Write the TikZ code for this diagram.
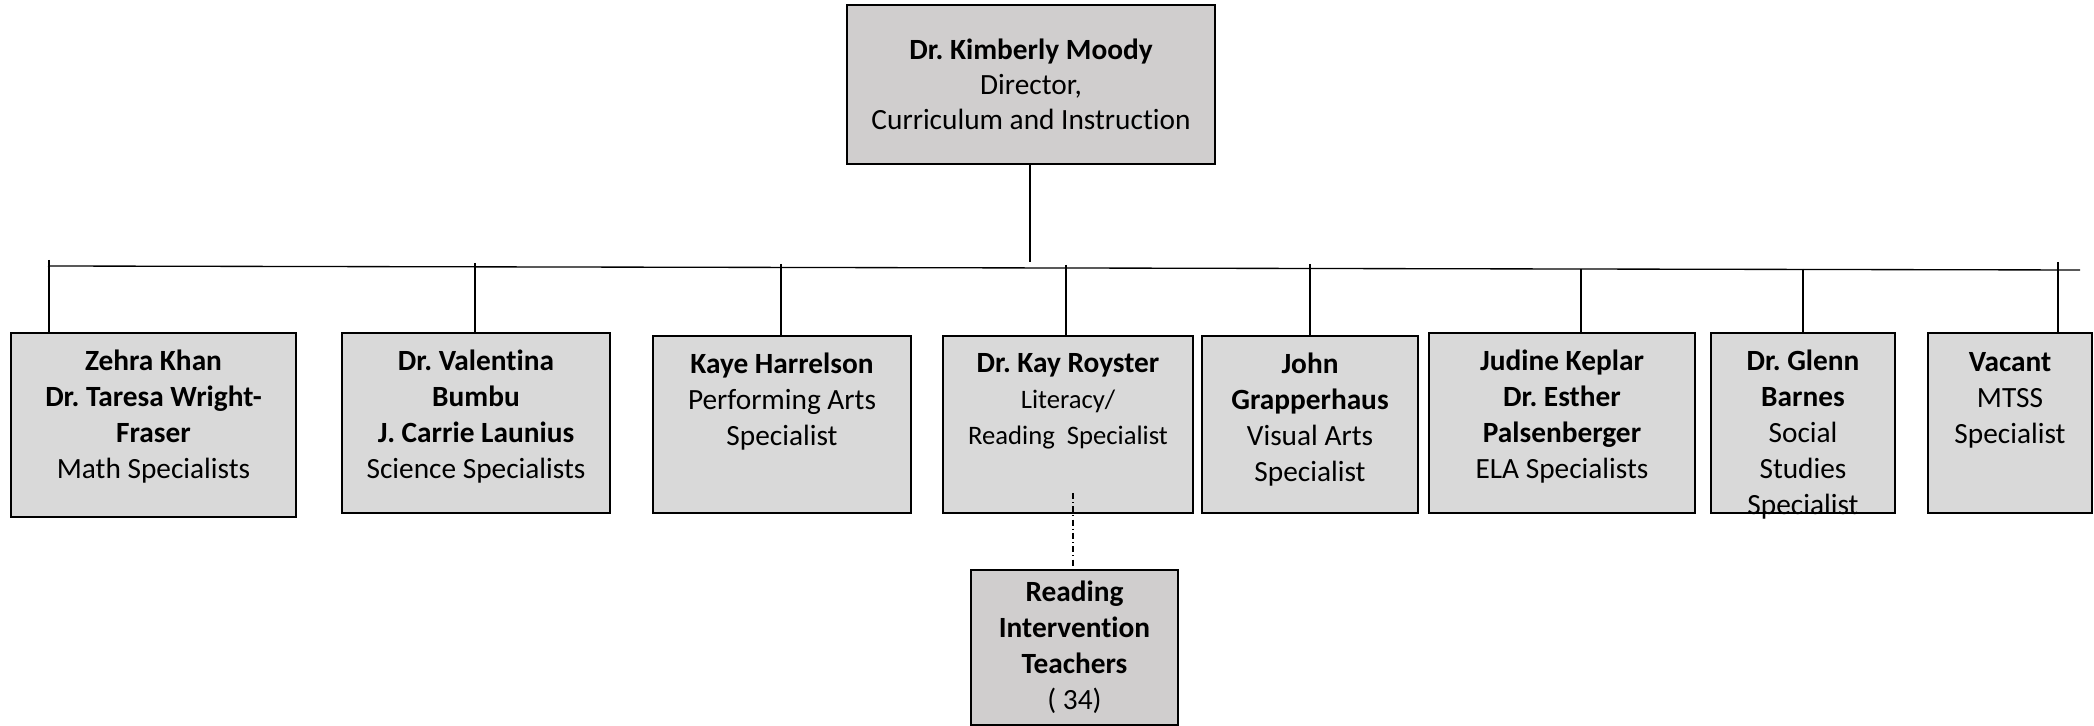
\documentclass[tikz,border=0pt]{standalone}
\usepackage{fontspec}
\setmainfont{Carlito}[Ligatures=NoCommon]
\frenchspacing
\usetikzlibrary{positioning}
\definecolor{boxgray}{HTML}{D9D9D9}
\definecolor{headgray}{HTML}{D0CECE}
\tikzset{
  post/.style 2 args={draw, line width=1pt, fill=boxgray, inner sep=0pt,
    minimum width=#1*0.375pt, minimum height=#2*0.375pt},
  words/.style={align=center, inner sep=0pt, font=\fontsize{11}{13.5}\selectfont},
  link/.style={line width=0.5pt},
  dashdot/.style={line width=0.4pt, dash pattern=on 2.2pt off 1.2pt on 0.4pt off 1.2pt}
}
\begin{document}
\begin{tikzpicture}[x=0.375pt,y=-0.375pt]
\useasboundingbox (0,0) rectangle (2094,726);

\node[post={368}{159}, fill=headgray, words, font=\fontsize{11}{13.2}\selectfont] (director) at (1031,84.5)
  {\textbf{Dr. Kimberly Moody}\\Director,\\Curriculum and Instruction};

\coordinate (busL) at (48,266);
\coordinate (busR) at (2080,270);
\coordinate (stem) at (1030,262);
\draw[link] (busL) -- (busR);
\draw[link] (director.south -| stem) -- (stem);

% specialists
\node[post={285}{184}] (math) at (153.5,425) {};
\node[post={268}{180}] (science) at (476,423) {};
\node[post={258}{177}] (arts) at (782,424.5) {};
\node[post={250}{177}] (literacy) at (1068,424.5) {};
\node[post={216}{177}] (visual) at (1310,424.5) {};
\node[post={266}{180}] (ela) at (1562,423) {};
\node[post={184}{180}] (social) at (1803,423) {};
\node[post={164}{180}] (mtss) at (2010,423) {};

\node[words, below=6.7pt of math.north] (mathname)
  {\textbf{Zehra Khan}\\\textbf{Dr. Taresa Wright-}\\\textbf{Fraser}\\Math Specialists};
\node[words, below=6.7pt of science.north] (sciencename)
  {\textbf{Dr. Valentina}\\\textbf{Bumbu}\\\textbf{J. Carrie Launius}\\Science Specialists};
\node[words, below=6.7pt of arts.north] (artsname)
  {\textbf{Kaye Harrelson}\\Performing Arts\\Specialist};
\node[words, below=7pt of literacy.north] (literacyname)
  {\textbf{Dr. Kay Royster}\\{\fontsize{10}{12.3}\selectfont Literacy/}\\{\fontsize{10}{12.3}\selectfont Reading\ \ Specialist}};
\node[words, below=6.7pt of visual.north] (visualname)
  {\textbf{John}\\\textbf{Grapperhaus}\\Visual Arts\\Specialist};
\node[words, below=6.7pt of ela.north] (elaname)
  {\textbf{Judine Keplar}\\\textbf{Dr. Esther}\\\textbf{Palsenberger}\\ELA Specialists};
\node[words, below=6.7pt of social.north] (socialname)
  {\textbf{Dr. Glenn}\\\textbf{Barnes}\\Social\\Studies\\Specialist};
\node[words, below=7.5pt of mtss.north] (mtssname)
  {\textbf{Vacant}\\MTSS\\Specialist};

% taps off the bus
\coordinate (t1) at (49,260);
\coordinate (t2) at (475,263);
\coordinate (t3) at (781,264);
\coordinate (t4) at (1066,265);
\coordinate (t5) at (1310,264);
\coordinate (t6) at (1581,269);
\coordinate (t7) at (1803,269);
\coordinate (t8) at (2058,262);
\draw[link] (t1) -- (t1 |- math.north);
\draw[link] (t2) -- (t2 |- science.north);
\draw[link] (t3) -- (t3 |- arts.north);
\draw[link] (t4) -- (t4 |- literacy.north);
\draw[link] (t5) -- (t5 |- visual.north);
\draw[link] (t6) -- (t6 |- ela.north);
\draw[link] (t7) -- (t7 |- social.north);
\draw[link] (t8) -- (t8 |- mtss.north);

\node[post={207}{155}, fill=headgray, words] (teachers) at (1074.5,647.5)
  {\textbf{Reading}\\\textbf{Intervention}\\\textbf{Teachers}\\( 34)};
\coordinate (dd) at (1073,493);
\draw[dashdot] (dd) -- (dd |- teachers.north);

\end{tikzpicture}
\end{document}
